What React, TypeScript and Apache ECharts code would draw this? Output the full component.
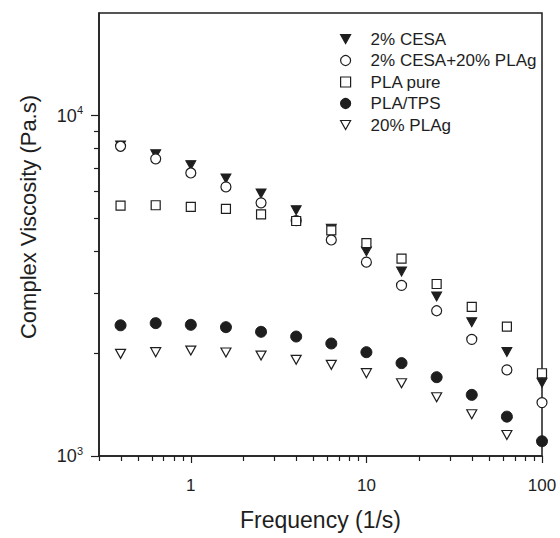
import React, { useEffect, useRef } from "react";
import * as echarts from "echarts";

const frequency = [0.398, 0.631, 1, 1.585, 2.512, 3.981, 6.31, 10, 15.85, 25.12, 39.81, 63.1, 100];
const cesa2 = [8160, 7700, 7150, 6530, 5900, 5270, 4650, 3990, 3480, 2940, 2470, 2020, 1640];
const cesaPlag = [8120, 7460, 6780, 6170, 5540, 4910, 4310, 3710, 3170, 2670, 2200, 1790, 1435];
const plaPure = [5440, 5450, 5390, 5320, 5125, 4900, 4600, 4220, 3800, 3200, 2740, 2400, 1750];
const plaTps = [2420, 2456, 2428, 2390, 2316, 2243, 2140, 2018, 1874, 1704, 1512, 1305, 1105];
const plag20 = [1995, 2018, 2040, 2013, 1972, 1916, 1852, 1751, 1636, 1488, 1326, 1153];

const seriesNames = ["2% CESA", "2% CESA+20% PLAg", "PLA pure", "PLA/TPS", "20% PLAg"];
const xMajorTicks = [1, 10, 100];
const xMinorTicks = [0.3, 0.4, 0.5, 0.6, 0.7, 0.8, 0.9, 2, 3, 4, 5, 6, 7, 8, 9, 20, 30, 40, 50, 60, 70, 80, 90];
const yMajorTicks = [1000, 10000];
const yMinorTicks = [2000, 3000, 4000, 5000, 6000, 7000, 8000, 9000];

const INK = "#1e1e1e";
const FONT = "'Liberation Sans', Arial, sans-serif";
const TRI_DOWN = "path://M0,0L10,0L5,9Z";

function pairs(ys: number[]) {
  return ys.map((y, i) => [frequency[i], y]);
}

export default function App() {
  const ref = useRef<HTMLDivElement>(null);
  useEffect(() => {
    document.body.style.margin = "0";
    const chart = echarts.init(ref.current!, null, { renderer: "svg" });
    const axisLine = { show: true, lineStyle: { color: INK, width: 1.5 } };
    const common = { type: "scatter", animation: false };
    const filled = { color: INK, borderColor: INK, borderWidth: 1, opacity: 1 };
    const open = { color: "#fff", borderColor: INK, borderWidth: 1.2, opacity: 1 };
    chart.setOption({
      animation: false,
      textStyle: { fontFamily: FONT, color: INK },
      grid: {
        show: true,
        borderColor: INK,
        borderWidth: 1.5,
        left: 99,
        right: 18,
        top: 13,
        bottom: 82,
        containLabel: false,
        outerBoundsMode: "none",
      },
      legend: {
        orient: "vertical",
        left: 335,
        top: 24,
        itemWidth: 10,
        itemHeight: 10,
        itemGap: 1.5,
        data: [
          { name: seriesNames[0], icon: TRI_DOWN },
          { name: seriesNames[1] },
          { name: seriesNames[2] },
          { name: seriesNames[3] },
          { name: seriesNames[4], icon: TRI_DOWN },
        ],
        textStyle: { fontSize: 17, color: INK, lineHeight: 20, padding: [0, 0, 0, 15], fontFamily: FONT },
        itemStyle: { borderWidth: 1.2 },
      },
      xAxis: [
        {
          type: "log",
          logBase: 10,
          min: 0.3,
          max: 100,
          position: "bottom",
          axisLine,
          axisTick: { show: true, inside: false, length: 7, customValues: xMajorTicks, lineStyle: { color: INK, width: 1.2 } },
          axisLabel: { customValues: xMajorTicks, fontSize: 17, margin: 21, color: INK, fontFamily: FONT },
          splitLine: { show: false },
          minorTick: { show: false },
          name: "Frequency (1/s)",
          nameLocation: "middle",
          nameGap: 52,
          nameTextStyle: { fontSize: 23, color: INK, fontFamily: FONT },
        },
        {
          type: "log",
          logBase: 10,
          min: 0.3,
          max: 100,
          position: "bottom",
          axisLine: { show: false },
          axisTick: { show: true, inside: false, length: 5, customValues: xMinorTicks, lineStyle: { color: INK, width: 1.2 } },
          axisLabel: { show: false },
          splitLine: { show: false },
        },
      ],
      yAxis: [
        {
          type: "log",
          logBase: 10,
          min: 1000,
          max: 20000,
          position: "left",
          axisLine,
          axisTick: { show: true, inside: false, length: 8, customValues: yMajorTicks, lineStyle: { color: INK, width: 1.2 } },
          axisLabel: {
            customValues: yMajorTicks,
            margin: 16,
            formatter: (v: number) => `{b|10}{s|${Math.round(Math.log10(v))}}`,
            rich: {
              b: { fontSize: 18, lineHeight: 22, color: INK, fontFamily: FONT },
              s: { fontSize: 11, lineHeight: 12, verticalAlign: "top", color: INK, fontFamily: FONT },
            },
          },
          splitLine: { show: false },
          minorTick: { show: false },
          name: "Complex Viscosity (Pa.s)",
          nameLocation: "middle",
          nameGap: 60,
          nameTextStyle: { fontSize: 22, color: INK, fontFamily: FONT, padding: [0, 0, 0, 35] },
        },
        {
          type: "log",
          logBase: 10,
          min: 1000,
          max: 20000,
          position: "left",
          axisLine: { show: false },
          axisTick: { show: true, inside: false, length: 5, customValues: yMinorTicks, lineStyle: { color: INK, width: 1.2 } },
          axisLabel: { show: false },
          splitLine: { show: false },
        },
      ],
      series: [
        {
          ...common,
          name: seriesNames[0],
          data: pairs(cesa2),
          symbol: "triangle",
          symbolRotate: 180,
          symbolSize: [10, 9],
          itemStyle: filled,
        },
        {
          ...common,
          name: seriesNames[1],
          data: pairs(cesaPlag),
          symbol: "circle",
          symbolSize: 10,
          itemStyle: open,
        },
        {
          ...common,
          name: seriesNames[2],
          data: pairs(plaPure),
          symbol: "rect",
          symbolSize: 9,
          itemStyle: open,
        },
        {
          ...common,
          name: seriesNames[3],
          data: pairs(plaTps),
          symbol: "circle",
          symbolSize: 11,
          itemStyle: filled,
        },
        {
          ...common,
          name: seriesNames[4],
          data: pairs(plag20),
          symbol: "triangle",
          symbolRotate: 180,
          symbolSize: [10, 9],
          itemStyle: open,
        },
      ],
    });
    return () => chart.dispose();
  }, []);
  return <div ref={ref} style={{ width: 560, height: 538 }} />;
}
